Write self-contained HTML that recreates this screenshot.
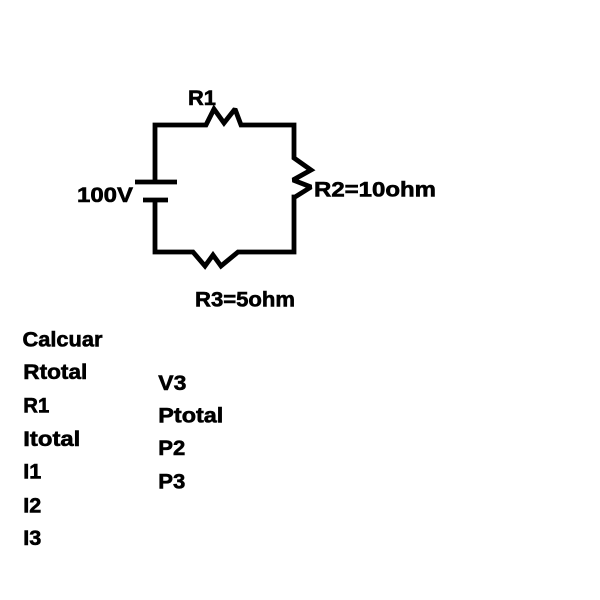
<!DOCTYPE html>
<html>
<head>
<meta charset="utf-8">
<style>
  html, body { margin: 0; padding: 0; background: #ffffff; }
  svg { display: block; }
  text { font-family: "Liberation Sans", "DejaVu Sans", sans-serif; font-weight: bold; font-size: 21px; fill: #000; stroke: #000; stroke-width: 0.6px; }
</style>
</head>
<body>
<svg width="600" height="600" viewBox="0 0 600 600" xmlns="http://www.w3.org/2000/svg">
  <rect x="0" y="0" width="600" height="600" fill="#ffffff"/>
  <g fill="none" stroke="#000" stroke-width="4.8" stroke-linejoin="miter" stroke-miterlimit="2">
    <!-- main loop -->
    <path d="M155,182 L155,125 L206,125 L214,109 L224,123 L235,109 L241,125 L294,125 L294,158 L311,170 L293,180 L311,187 L295,197 L294,197 L294,252 L238,252 L221,266 L213,255 L205,266 L193,252 L155,252 L155,200"/>
    <!-- battery plates -->
    <line x1="135" y1="182" x2="177" y2="182"/>
    <line x1="143" y1="200" x2="168" y2="200"/>
  </g>

  <!-- circuit labels -->
  <text x="188" y="105" textLength="28" lengthAdjust="spacingAndGlyphs">R1</text>
  <text x="77" y="202" textLength="56" lengthAdjust="spacingAndGlyphs">100V</text>
  <text x="314" y="196.5" textLength="122" lengthAdjust="spacingAndGlyphs">R2=10ohm</text>
  <text x="195" y="306.5" textLength="100" lengthAdjust="spacingAndGlyphs">R3=5ohm</text>

  <!-- left column -->
  <text x="22.5" y="346.7" textLength="80" lengthAdjust="spacingAndGlyphs">Calcuar</text>
  <text x="23.3" y="378.8" textLength="64" lengthAdjust="spacingAndGlyphs">Rtotal</text>
  <text x="23.3" y="412.5" textLength="26" lengthAdjust="spacingAndGlyphs">R1</text>
  <text x="23.3" y="446" textLength="57" lengthAdjust="spacingAndGlyphs">Itotal</text>
  <text x="23.3" y="478.5" textLength="18" lengthAdjust="spacingAndGlyphs">I1</text>
  <text x="23.3" y="512.5" textLength="18" lengthAdjust="spacingAndGlyphs">I2</text>
  <text x="23.3" y="545" textLength="18" lengthAdjust="spacingAndGlyphs">I3</text>

  <!-- right column -->
  <text x="158.3" y="390" textLength="28" lengthAdjust="spacingAndGlyphs">V3</text>
  <text x="158.3" y="422.7" textLength="65" lengthAdjust="spacingAndGlyphs">Ptotal</text>
  <text x="158.3" y="455" textLength="27" lengthAdjust="spacingAndGlyphs">P2</text>
  <text x="158.3" y="488.3" textLength="27" lengthAdjust="spacingAndGlyphs">P3</text>
</svg>
</body>
</html>
